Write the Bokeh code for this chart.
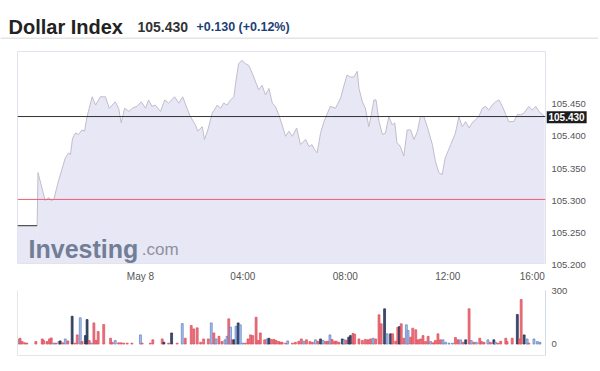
from bokeh.plotting import figure
from bokeh.models import Range1d, Span, FixedTicker, LinearAxis, ColumnDataSource, Text
from bokeh.layouts import column, row
from bokeh.embed import file_html
from bokeh.resources import INLINE
from bokeh.core.properties import value

# ---------------- data (minutes relative to May 8 00:00) ----------------
title = "Dollar Index"
last_text = "105.430"
change_text = "+0.130 (+0.12%)"
last_price = 105.430
ref_price = 105.300

price_min = [
    -288, -242, -240, -223, -215, -209, -203, -192, -176, -168,
    -164, -159, -152, -145, -137, -131, -125, -120, -113, -105,
    -94, -82, -73, -59, -51, -45, -37, -27, -19, -8,
    2, 12, 19, 27, 35, 47, 57, 66, 80, 90,
    99, 109, 117, 129, 134, 145, 150, 158, 168, 180,
    188, 195, 203, 211, 219, 223, 230, 238, 246, 254,
    262, 270, 277, 285, 293, 301, 309, 316, 324, 332,
    340, 348, 356, 366, 375, 387, 395, 402, 408, 414,
    422, 430, 438, 445, 457, 469, 477, 484, 492, 500,
    508, 512, 520, 527, 535, 541, 547, 552, 559, 567,
    574, 582, 590, 596, 601, 609, 617, 625, 633, 641,
    649, 656, 664, 672, 684, 691, 699, 707, 714, 727,
    738, 746, 754, 762, 770, 777, 785, 793, 801, 809,
    816, 824, 832, 840, 848, 856, 863, 875, 883, 891,
    898, 910, 918, 926, 934, 942, 947,
]
price_val = [
    105.259, 105.259, 105.342, 105.298, 105.303, 105.298, 105.300, 105.329, 105.365, 105.373,
    105.370, 105.396, 105.404, 105.402, 105.409, 105.407, 105.430, 105.443, 105.461, 105.448,
    105.461, 105.461, 105.443, 105.453, 105.443, 105.420, 105.443, 105.438, 105.443, 105.446,
    105.453, 105.443, 105.456, 105.446, 105.448, 105.438, 105.456, 105.451, 105.461, 105.451,
    105.461, 105.443, 105.430, 105.417, 105.407, 105.414, 105.394, 105.409, 105.435, 105.448,
    105.443, 105.451, 105.448, 105.456, 105.461, 105.482, 105.513, 105.518, 105.513, 105.510,
    105.498, 105.484, 105.472, 105.479, 105.464, 105.474, 105.451, 105.446, 105.433, 105.417,
    105.399, 105.407, 105.399, 105.412, 105.386, 105.394, 105.383, 105.386, 105.378, 105.373,
    105.404, 105.422, 105.435, 105.446, 105.443, 105.459, 105.479, 105.495, 105.492, 105.492,
    105.501, 105.474, 105.453, 105.443, 105.414, 105.433, 105.456, 105.456, 105.422, 105.402,
    105.404, 105.430, 105.417, 105.420, 105.389, 105.383, 105.368, 105.409, 105.409, 105.394,
    105.407, 105.430, 105.430, 105.414, 105.386, 105.360, 105.342, 105.339, 105.365, 105.386,
    105.404, 105.430, 105.414, 105.422, 105.412, 105.420, 105.425, 105.430, 105.443, 105.446,
    105.440, 105.448, 105.453, 105.456, 105.446, 105.433, 105.422, 105.422, 105.433, 105.433,
    105.435, 105.446, 105.440, 105.446, 105.438, 105.433, 105.430,
]
assert len(price_min) == len(price_val)

vol_min = [
    -287, -282, -277, -271, -266, -245, -230, -227, -219, -213,
    -209, -203, -198, -191, -188, -182, -176, -170, -160, -154,
    -148, -141, -137, -129, -125, -120, -115, -109, -104, -99,
    -86, -70, -66, -59, -51, -45, -39, -31, -20, 0,
    4, 23, 29, 51, 55, 66, 73, 86, 98, 105,
    119, 125, 133, 141, 148, 159, 166, 172, 177, 184,
    191, 198, 203, 207, 211, 215, 219, 224, 229, 234,
    240, 246, 252, 258, 263, 271, 276, 281, 291, 297,
    301, 307, 313, 318, 324, 328,
    332, 340, 345, 356, 363, 371, 377, 383, 389, 397,
    403, 410, 416, 422, 428, 434, 439, 444, 449, 455,
    459, 465, 473, 477, 482, 488, 492, 498, 502, 512,
    520, 527, 533, 539, 545, 551, 559, 564, 572, 578,
    586, 591, 598, 603, 607, 611, 617, 623, 627, 633,
    638, 645, 650, 656, 662, 668, 674, 680, 686, 691,
    697, 703, 709, 715, 723, 731, 738, 744, 750, 756,
    762, 770, 775, 781, 787, 795, 799, 805, 814, 820,
    828, 832, 838, 844, 856, 859, 871, 883, 888, 892,
    899, 906, 910, 922, 930, 936,
]
vol_val = [
    26, 33, 14, 7, 5, 14, 29, 20, 14, 29,
    35, 5, 5, 14, 18, 7, 29, 18, 158, 5,
    52, 149, 14, 48, 139, 20, 5, 120, 20, 71,
    111, 33, 10, 20, 7, 7, 5, 5, 5, 52,
    5, 5, 24, 29, 10, 5, 63, 5, 116, 33,
    105, 86, 92, 10, 29, 29, 120, 63, 29, 44,
    14, 24, 44, 143, 96, 24, 24, 101, 120, 109,
    5, 5, 29, 52, 48, 152, 20, 63, 24, 29,
    33, 26, 26, 20, 14, 10,
    10, 5, 18, 5, 10, 16, 29, 16, 24, 14,
    10, 24, 16, 29, 20, 14, 16, 52, 26, 16,
    16, 10, 29, 24, 22, 39, 48, 60, 56, 29,
    20, 26, 24, 29, 33, 29, 166, 115, 200, 58,
    58, 58, 16, 95, 99, 115, 33, 109, 77, 39,
    90, 81, 24, 29, 48, 14, 44, 14, 7, 20,
    58, 24, 24, 10, 5, 5, 37, 24, 24, 10,
    24, 200, 20, 10, 10, 33, 14, 10, 24, 10,
    24, 10, 5, 16, 33, 14, 33, 168, 29, 253,
    52, 29, 5, 29, 14, 10,
]
vol_side = [
    "up", "down", "down", "down", "down", "down", "down", "down", "down", "down",
    "down", "up", "down", "up", "flat", "down", "up", "down", "flat", "down",
    "down", "up", "down", "flat", "flat", "down", "up", "down", "down", "down",
    "down", "down", "down", "up", "down", "down", "down", "down", "down", "up",
    "down", "down", "down", "down", "flat", "down", "flat", "down", "up", "down",
    "down", "down", "down", "down", "down", "down", "up", "down", "up", "down",
    "down", "up", "up", "down", "up", "down", "flat", "up", "flat", "up",
    "up", "down", "down", "down", "down", "down", "down", "down", "down", "up",
    "flat", "down", "down", "down", "down", "down",
    "down", "down", "up", "down", "down", "down", "down", "up", "down", "down",
    "down", "up", "down", "flat", "up", "down", "down", "up", "down", "down",
    "down", "down", "flat", "up", "down", "flat", "flat", "down", "down", "down",
    "down", "down", "down", "down", "up", "down", "down", "down", "flat", "up",
    "flat", "down", "down", "down", "flat", "down", "down", "up", "up", "down",
    "down", "down", "down", "down", "down", "down", "down", "up", "down", "down",
    "down", "down", "up", "up", "up", "up", "down", "down", "up", "down",
    "flat", "down", "up", "down", "up", "down", "down", "down", "up", "down",
    "flat", "up", "down", "down", "down", "down", "down", "flat", "down", "down",
    "flat", "up", "down", "up", "up", "up",
]
assert len(vol_min) == len(vol_val) == len(vol_side)

price_ticks = [105.200, 105.250, 105.300, 105.350, 105.400, 105.450]
price_tick_labels = [f"{t:.3f}" for t in price_ticks]
vol_ticks = [0, 300]
vol_tick_labels = [str(t) for t in vol_ticks]
# time-axis labels; the last one is pulled inside the plot edge, as in the original
time_tick_pos = [0, 240, 480, 720, 918]
time_tick_lab = ["May 8", "04:00", "08:00", "12:00", "16:00"]

# ---------------- layout constants (pixels) ----------------
FONT = "Liberation Sans"
W = 598
PW = 546            # width of the main panels (frame ends at x = 545)
SW = W - PW         # width of the right-hand label strip
LEFT = 17
HEADER_H = 39
P_H, P_TOP, P_BOT = 245, 12, 19
V_H, V_TOP, V_BOT = 80, 6, 9

X0, X1 = -288, 949
Y0, Y1 = 105.1995, 105.532
VY0, VY1 = -65, 304

LABEL_COLOR = "#555555"
side_fill = {"down": "#e8737e", "up": "#a9c1ea", "flat": "#3e4b70"}
side_line = {"down": "#dc4c5a", "up": "#5b80c4", "flat": "#222c48"}


def bare(fig):
    fig.grid.visible = False
    return fig


# ---------------- header ----------------
header = bare(figure(width=W, height=HEADER_H, x_range=Range1d(0, W), y_range=Range1d(HEADER_H, 0),
                     output_backend="svg", toolbar_location=None,
                     min_border_left=0, min_border_right=0, min_border_top=0, min_border_bottom=0,
                     x_axis_type=None, y_axis_type=None, outline_line_color=None))
header.text(x=[8], y=[26], text=[title], text_font=value(FONT), text_font_size="20px",
            text_font_style="bold", text_color="#222222", text_baseline="alphabetic")
header.text(x=[137], y=[26], text=[last_text], text_font=value(FONT), text_font_size="14px",
            text_font_style="bold", text_color="#333333", text_baseline="alphabetic")
header.text(x=[196], y=[26], text=[change_text], text_font=value(FONT), text_font_size="12.5px",
            text_font_style="bold", text_color="#1e3f74", text_baseline="alphabetic")
header.add_layout(Span(location=HEADER_H - 1, dimension="width", line_color="#e4e4e4", line_width=2))

# ---------------- price panel ----------------
p = bare(figure(width=PW, height=P_H, x_range=Range1d(X0, X1), y_range=Range1d(Y0, Y1),
                output_backend="svg", toolbar_location=None,
                min_border_left=LEFT, min_border_right=1, min_border_top=P_TOP, min_border_bottom=P_BOT,
                y_axis_location=None))
p.outline_line_color = "#e2e2ee"

p.varea(x=price_min[1:], y1=Y0, y2=price_val[1:], fill_color="#e7e7f6")
p.varea(x=price_min[:2], y1=Y0, y2=price_val[:2], fill_color="#e7e7f6")

p.text(x=[-262], y=[105.2215], text=["Investing"], text_font=value(FONT), text_font_size="25px",
       text_font_style="bold", text_color="#717e96", text_baseline="alphabetic")
p.text(x=[3], y=[105.2215], text=[".com"], text_font=value(FONT), text_font_size="17px",
       text_color="#8d929c", text_baseline="alphabetic")

p.line(x=price_min[1:], y=price_val[1:], line_color="#c3bccb", line_width=1)
p.line(x=price_min[:2], y=price_val[:2], line_color="#555555", line_width=1.2)

p.add_layout(Span(location=last_price, dimension="width", line_color="#333333", line_width=1))
p.add_layout(Span(location=ref_price, dimension="width", line_color="#ec5f72", line_width=1))

xa = p.xaxis[0]
xa.ticker = FixedTicker(ticks=time_tick_pos)
xa.major_label_overrides = dict(zip(time_tick_pos, time_tick_lab))
xa.axis_line_color = None
xa.major_tick_line_color = None
xa.minor_tick_line_color = None
xa.major_tick_out = 0
xa.major_tick_in = 0
xa.axis_label_standoff = 0
xa.major_label_standoff = 7
xa.major_label_text_font = FONT
xa.major_label_text_font_size = "10px"
xa.major_label_text_color = LABEL_COLOR

# right-hand strip for the price scale: same vertical scale, taller frame so labels are never cut
kp = (Y1 - Y0) / (P_H - P_TOP - P_BOT)
ps = bare(figure(width=SW, height=P_H, x_range=Range1d(0, SW),
                 y_range=Range1d(Y0 - P_BOT * kp, Y1 + P_TOP * kp),
                 output_backend="svg", toolbar_location=None,
                 min_border_left=0, min_border_right=0, min_border_top=0, min_border_bottom=0,
                 x_axis_type=None, y_axis_type=None, outline_line_color=None))
ps.text(x=5, y=price_ticks, text=price_tick_labels, text_font=value(FONT), text_font_size="9.5px",
        text_color=LABEL_COLOR, text_align="left", text_baseline="middle")

box_kwargs = dict(x=0, y=[last_price], text=[last_text], text_font=value(FONT), text_font_size="10px",
                  text_font_style="bold", text_color="white", text_align="left", text_baseline="middle")
text_props = Text.properties()
if "background_fill_color" in text_props:
    extra = dict(background_fill_color="#1c1c1c")
    if "padding" in text_props:
        extra["padding"] = 2
    ps.text(**box_kwargs, **extra)
else:
    ps.quad(left=0, right=38, bottom=last_price - 6.5 * kp, top=last_price + 6.5 * kp,
            fill_color="#1c1c1c", line_color=None)
    box_kwargs["x"] = 2
    ps.text(**box_kwargs)

# ---------------- volume panel ----------------
v = bare(figure(width=PW, height=V_H, x_range=p.x_range, y_range=Range1d(VY0, VY1),
                output_backend="svg", toolbar_location=None,
                min_border_left=LEFT, min_border_right=1, min_border_top=V_TOP, min_border_bottom=V_BOT,
                x_axis_location=None, y_axis_location=None))
v.outline_line_color = None

src = ColumnDataSource(dict(
    x=vol_min, top=vol_val,
    fill=[side_fill[s] for s in vol_side],
    line=[side_line[s] for s in vol_side],
))
v.vbar(x="x", top="top", bottom=0, width=4.5, fill_color="fill", line_color="line",
       line_width=0.7, source=src)

for loc, col in (("left", "#e6e6e6"), ("below", "#e6e6e6"), ("right", "#d3daea")):
    ax = LinearAxis(ticker=FixedTicker(ticks=[]), axis_line_color=col,
                    major_tick_line_color=None, minor_tick_line_color=None,
                    major_tick_out=0, major_tick_in=0,
                    major_label_standoff=0, axis_label_standoff=0)
    v.add_layout(ax, loc)

kv = (VY1 - VY0) / (V_H - V_TOP - V_BOT)
vs = bare(figure(width=SW, height=V_H, x_range=Range1d(0, SW),
                 y_range=Range1d(VY0 - V_BOT * kv, VY1 + V_TOP * kv),
                 output_backend="svg", toolbar_location=None,
                 min_border_left=0, min_border_right=0, min_border_top=0, min_border_bottom=0,
                 x_axis_type=None, y_axis_type=None, outline_line_color=None))
vs.text(x=5, y=vol_ticks, text=vol_tick_labels, text_font=value(FONT), text_font_size="9.5px",
        text_color=LABEL_COLOR, text_align="left", text_baseline="middle")

layout = column(
    column(header),
    row(column(p), column(ps), spacing=0),
    row(column(v), column(vs), spacing=0),
    spacing=0,
)
open("out.html", "w").write(file_html(layout, INLINE))
